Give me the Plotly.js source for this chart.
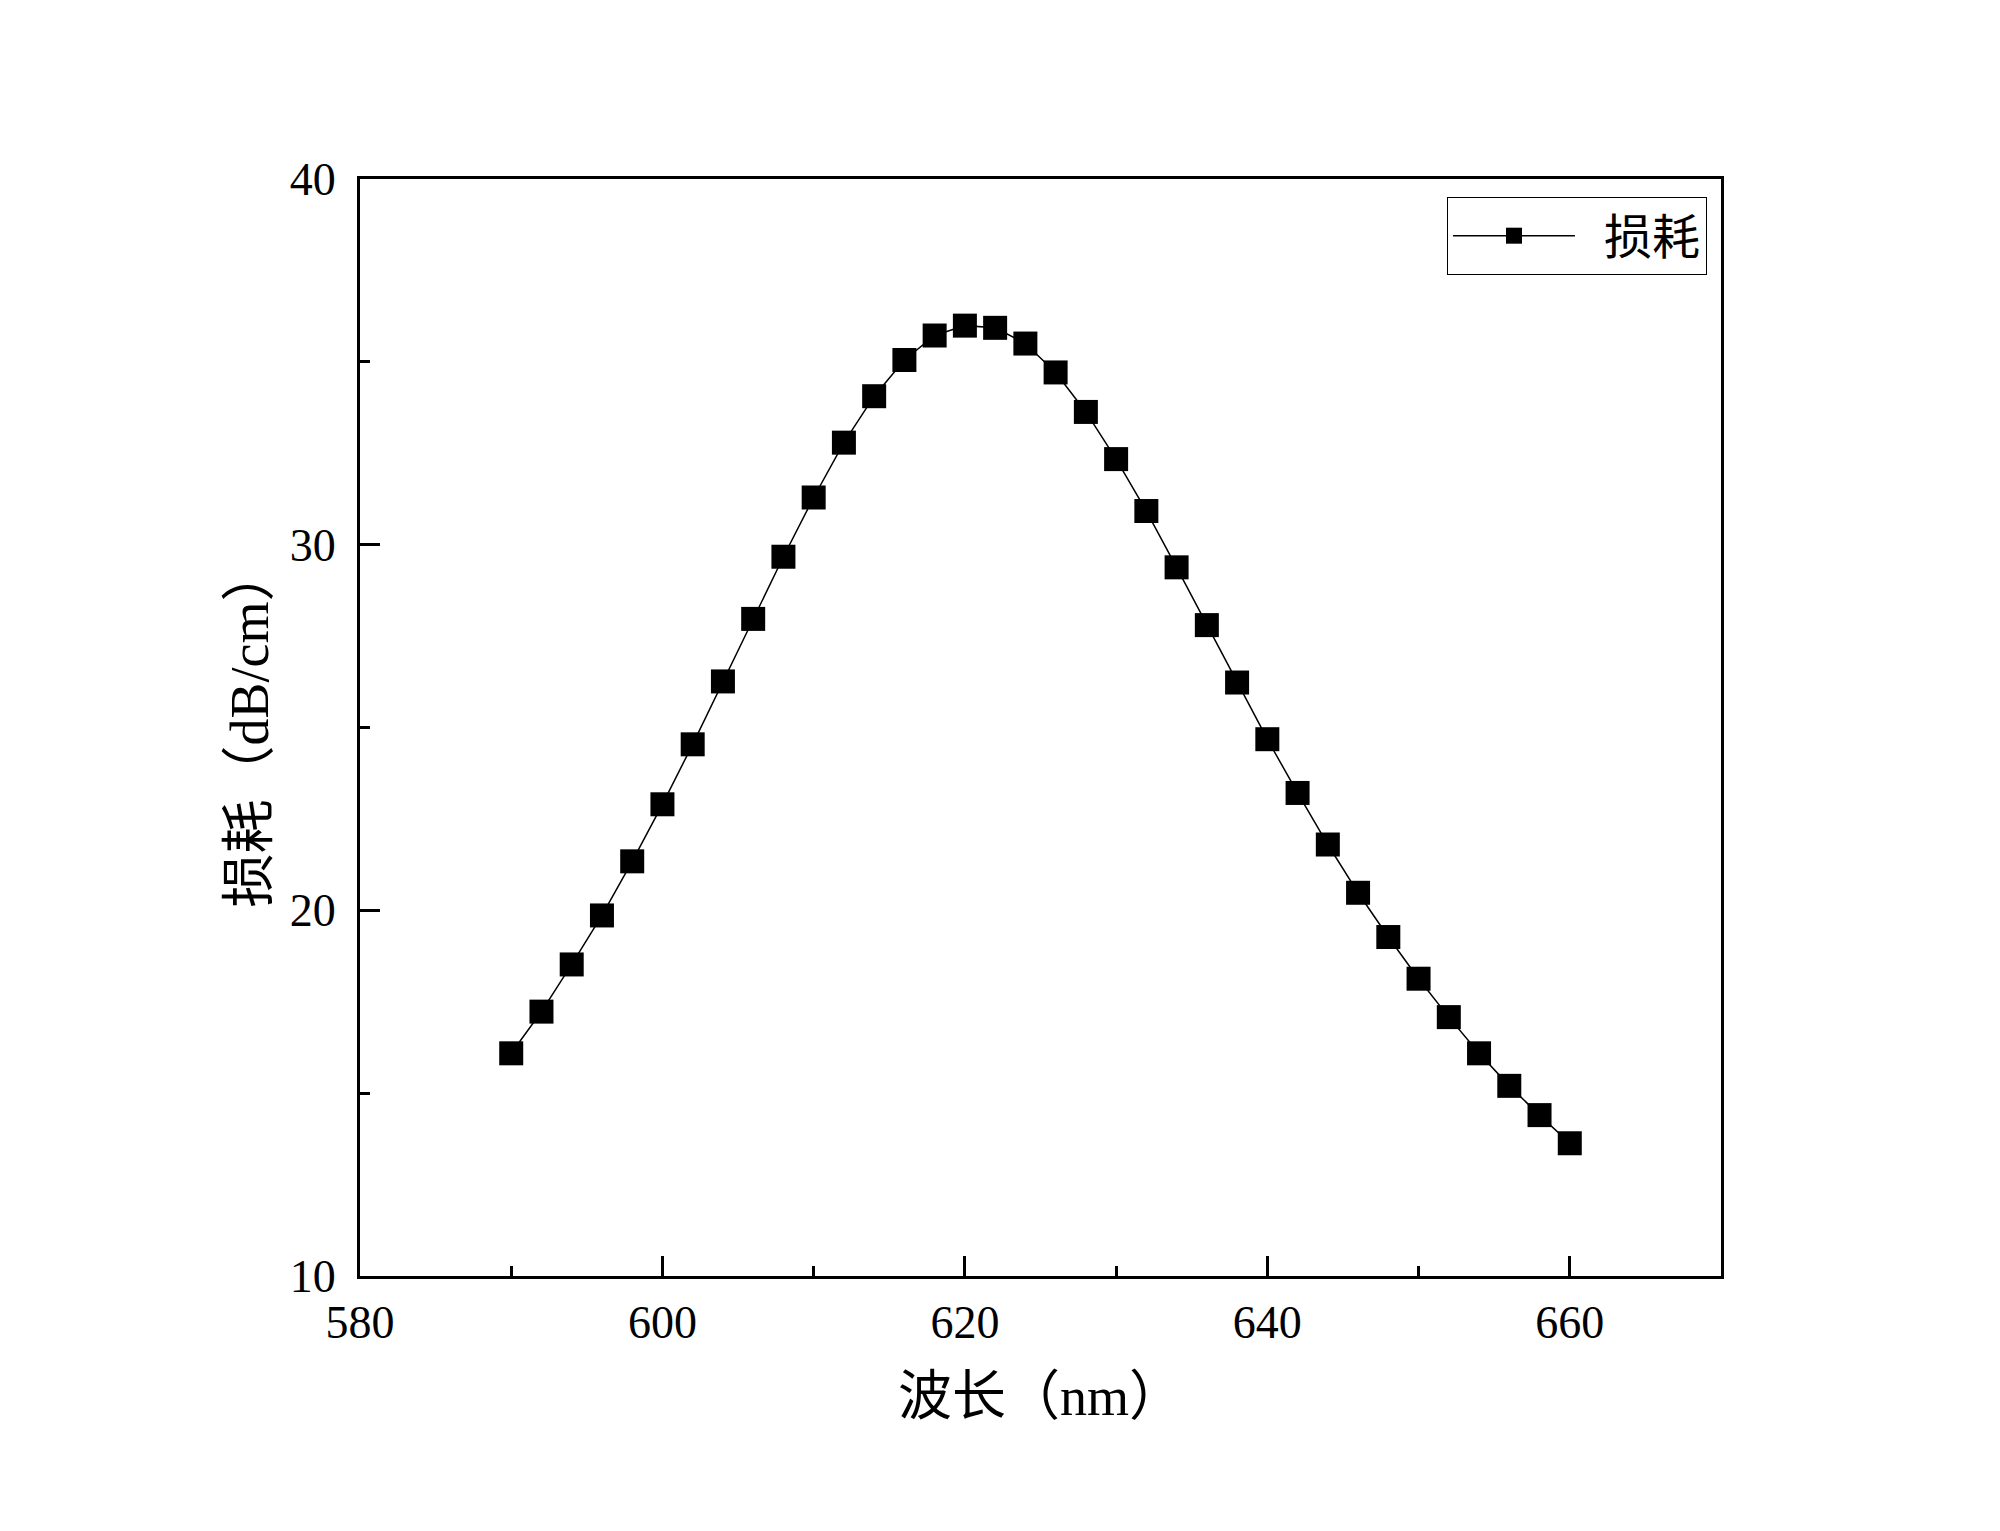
<!DOCTYPE html>
<html>
<head>
<meta charset="utf-8">
<script src="https://cdn.plot.ly/plotly-3.0.1.min.js"></script>
<style>html,body{margin:0;padding:0;background:#fff;}#chart{width:2000px;height:1531px;}</style>
</head>
<body>
<div id="chart"></div>
<script>
const wavelength = [590,592,594,596,598,600,602,604,606,608,610,612,614,616,618,620,622,624,626,628,630,632,634,636,638,640,642,644,646,648,650,652,654,656,658,660];
const loss = [16.09,17.23,18.52,19.86,21.34,22.90,24.54,26.26,27.97,29.67,31.29,32.79,34.06,35.05,35.72,35.99,35.93,35.50,34.71,33.63,32.34,30.92,29.38,27.80,26.23,24.68,23.21,21.80,20.48,19.27,18.13,17.08,16.09,15.20,14.40,13.63];
const seriesName = '\u00a0\u00a0损耗';
const xTitle = '波长（nm）';
const yTitle = '损耗（dB/cm）';
const xTickVals = [580,600,620,640,660];
const yTickVals = [10,20,30,40];

const FONT = '"Liberation Serif", "Noto Sans CJK SC", serif';

const trace = {
  x: wavelength,
  y: loss,
  name: seriesName,
  type: 'scatter',
  mode: 'lines+markers',
  line: {color: '#000', width: 1.5},
  marker: {symbol: 'square', size: 24, color: '#000', line: {width: 0}}
};

const axisCommon = {
  showline: true, linecolor: '#000', linewidth: 3,
  mirror: true,
  ticks: 'inside', ticklen: 20, tickwidth: 3, tickcolor: '#000',
  showgrid: false, zeroline: false,
  tickfont: {family: FONT, size: 46, color: '#000'},
  minor: {ticks: 'inside', ticklen: 10, tickwidth: 3, tickcolor: '#000', showgrid: false}
};

const layout = {
  width: 2000, height: 1531,
  paper_bgcolor: '#fff', plot_bgcolor: '#fff',
  margin: {l: 360, r: 279, t: 179, b: 255},
  showlegend: true,
  legend: {
    x: 0.9897, y: 0.9836, xanchor: 'right', yanchor: 'top',
    bordercolor: '#000', borderwidth: 1, bgcolor: '#fff',
    font: {family: FONT, size: 48, color: '#000'},
    itemwidth: 122
  },
  xaxis: Object.assign({}, axisCommon, {
    range: [580, 670], tickvals: xTickVals, ticklabelstandoff: 4,
    minor: Object.assign({}, axisCommon.minor, {dtick: 10, tick0: 580}),
    title: {text: xTitle, font: {family: FONT, size: 54, color: '#000'}, standoff: 30}
  }),
  yaxis: Object.assign({}, axisCommon, {
    range: [10, 40], tickvals: yTickVals, ticklabelstandoff: 12,
    minor: Object.assign({}, axisCommon.minor, {dtick: 5, tick0: 10}),
    title: {text: yTitle, font: {family: FONT, size: 54, color: '#000'}, standoff: 4}
  })
};

Plotly.newPlot('chart', [trace], layout, {displayModeBar: false, staticPlot: true});
</script>
</body>
</html>
